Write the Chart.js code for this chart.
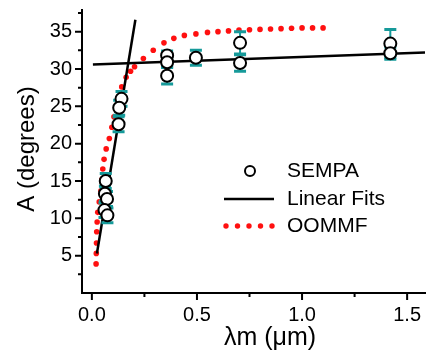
<!DOCTYPE html>
<html>
<head>
<meta charset="utf-8">
<script src="https://cdn.jsdelivr.net/npm/chart.js@4.4.1/dist/chart.umd.min.js"></script>
<style>
  html, body { margin: 0; padding: 0; background: #fff; overflow: hidden; }
  #wrap { width: 428px; height: 354px; overflow: hidden; }
</style>
</head>
<body>
<!-- canvas is a little wider than the page: chart.js keeps ~5px free on the right,
     the original plot runs its axis right to the edge -->
<div id="wrap"><canvas id="chart" width="433" height="354"></canvas></div>
<script>
// SEMPA measurements (lambda_m in um, A in degrees, error in degrees)
const semX = [0.066, 0.062, 0.072, 0.060, 0.074, 0.141, 0.130, 0.127, 0.358, 0.358, 0.358, 0.495, 0.705, 0.705, 1.42, 1.42];
const semY = [15.0, 13.3, 12.6, 11.1, 10.4, 26.0, 24.8, 22.6, 31.8, 30.9, 29.1, 31.5, 33.5, 30.8, 33.4, 32.1];
const semErrUp = [1.0, 1.0, 1.0, 1.0, 1.0, 1.0, 1.0, 1.0, 0.6, 0.6, 1.1, 1.0, 1.5, 1.1, 1.9, 0.8];
const semErrDown = [1.0, 1.0, 1.0, 1.0, 1.0, 1.0, 1.0, 1.0, 0.6, 0.6, 1.1, 1.0, 1.5, 1.1, 1.9, 0.8];

// linear fits, end points
const fitSteepX = [0.024, 0.207];
const fitSteepY = [5.3, 36.6];
const fitFlatX = [0.005, 1.585];
const fitFlatY = [30.6, 32.2];

// OOMMF simulation (dotted curve)
const oommfX = [0.020, 0.021, 0.022, 0.023, 0.025, 0.028, 0.035, 0.043, 0.048, 0.052, 0.058, 0.068, 0.083, 0.095, 0.105, 0.116, 0.128, 0.142, 0.163, 0.184, 0.203, 0.245, 0.292, 0.343, 0.390, 0.440, 0.495, 0.550, 0.600, 0.650, 0.700, 0.750, 0.800, 0.850, 0.900, 0.950, 1.000, 1.050, 1.100];
const oommfY = [3.9, 5.3, 6.7, 8.2, 9.5, 10.8, 12.2, 13.7, 15.2, 16.6, 17.9, 19.3, 20.7, 22.2, 23.6, 25.0, 26.3, 27.6, 28.9, 29.7, 30.3, 31.4, 32.5, 33.5, 34.1, 34.5, 34.7, 34.9, 35.0, 35.1, 35.2, 35.25, 35.3, 35.35, 35.4, 35.45, 35.5, 35.5, 35.5];

// axis ticks
const xTicks = [0, 0.5, 1.0, 1.5];
const xMinor = [0.25, 0.75, 1.25];
const yTicks = [5, 10, 15, 20, 25, 30, 35];
const yMinor = [2.5, 7.5, 12.5, 17.5, 22.5, 27.5, 32.5, 37.5];

const TEAL = '#169a9a';
const RED = '#ff1010';
const FONT = "'Liberation Sans', Arial, sans-serif";

function pts(xs, ys) {
  return xs.map((x, i) => ({ x: x, y: ys[i] }));
}

function noPad(s) {
  s.paddingLeft = 0;
  s.paddingRight = 0;
  s.paddingTop = 0;
  s.paddingBottom = 0;
}

const errorBars = {
  id: 'errorBars',
  beforeDatasetDraw(chart, args) {
    if (args.index !== 0) return;
    const ctx = chart.ctx;
    const xs = chart.scales.x, ys = chart.scales.y;
    ctx.save();
    ctx.strokeStyle = TEAL;
    semX.forEach((v, i) => {
      const px = xs.getPixelForValue(v);
      const top = ys.getPixelForValue(semY[i] + semErrUp[i]);
      const bot = ys.getPixelForValue(semY[i] - semErrDown[i]);
      ctx.lineWidth = 2;
      ctx.beginPath();
      ctx.moveTo(px, top);
      ctx.lineTo(px, bot);
      ctx.stroke();
      ctx.lineWidth = 3;
      ctx.beginPath();
      ctx.moveTo(px - 6, top);
      ctx.lineTo(px + 6, top);
      ctx.moveTo(px - 6, bot);
      ctx.lineTo(px + 6, bot);
      ctx.stroke();
    });
    ctx.restore();
  }
};

const decorations = {
  id: 'decorations',
  afterDraw(chart) {
    const ctx = chart.ctx;
    const xs = chart.scales.x, ys = chart.scales.y;
    const area = chart.chartArea;
    ctx.save();
    ctx.strokeStyle = '#000';
    ctx.lineWidth = 2;
    ctx.beginPath();
    xTicks.forEach(v => { const p = xs.getPixelForValue(v); ctx.moveTo(p, area.bottom); ctx.lineTo(p, area.bottom + 7); });
    xMinor.forEach(v => { const p = xs.getPixelForValue(v); ctx.moveTo(p, area.bottom); ctx.lineTo(p, area.bottom + 4); });
    yTicks.forEach(v => { const p = ys.getPixelForValue(v); ctx.moveTo(area.left, p); ctx.lineTo(area.left - 7, p); });
    yMinor.forEach(v => { const p = ys.getPixelForValue(v); ctx.moveTo(area.left, p); ctx.lineTo(area.left - 4, p); });
    ctx.stroke();

    // axis titles
    ctx.fillStyle = '#000';
    ctx.textAlign = 'center';
    ctx.textBaseline = 'middle';
    ctx.font = '25px ' + FONT;
    ctx.fillText('\u03bbm (\u03bcm)', 270, 338);
    ctx.save();
    ctx.translate(27, 149);
    ctx.rotate(-Math.PI / 2);
    ctx.font = '24px ' + FONT;
    ctx.fillText('A (degrees)', 0, 0);
    ctx.restore();

    // legend
    ctx.font = '21px ' + FONT;
    ctx.textAlign = 'left';
    ctx.fillText('SEMPA', 287, 171);
    ctx.fillText('Linear Fits', 287, 199);
    ctx.fillText('OOMMF', 287, 226);
    ctx.beginPath();
    ctx.arc(250, 171, 5, 0, Math.PI * 2);
    ctx.fillStyle = '#fff';
    ctx.fill();
    ctx.lineWidth = 2;
    ctx.stroke();
    ctx.beginPath();
    ctx.lineWidth = 2.5;
    ctx.moveTo(224, 199);
    ctx.lineTo(274, 199);
    ctx.stroke();
    ctx.fillStyle = RED;
    for (let k = 0; k < 5; k++) {
      ctx.beginPath();
      ctx.arc(226 + k * 11.5, 226, 2.7, 0, Math.PI * 2);
      ctx.fill();
    }
    ctx.restore();
  }
};

new Chart(document.getElementById('chart'), {
  type: 'scatter',
  data: {
    datasets: [
      {
        label: 'SEMPA',
        data: pts(semX, semY),
        pointStyle: 'circle',
        pointRadius: 6,
        borderWidth: 2,
        borderColor: '#000',
        backgroundColor: '#fff'
      },
      {
        label: 'Linear Fits',
        data: pts(fitSteepX, fitSteepY),
        showLine: true,
        pointRadius: 0,
        borderColor: '#000',
        borderWidth: 2.5
      },
      {
        label: 'Linear Fits',
        data: pts(fitFlatX, fitFlatY),
        showLine: true,
        pointRadius: 0,
        borderColor: '#000',
        borderWidth: 2.5
      },
      {
        label: 'OOMMF',
        data: pts(oommfX, oommfY),
        pointRadius: 2.8,
        borderWidth: 0,
        backgroundColor: RED
      }
    ]
  },
  options: {
    responsive: false,
    animation: false,
    layout: { padding: { top: 10, left: 0, right: 0, bottom: 0 } },
    plugins: { legend: { display: false }, tooltip: { enabled: false } },
    scales: {
      x: {
        type: 'linear',
        min: -0.047,
        max: 1.585,
        afterFit: s => { s.height = 61; noPad(s); },
        afterBuildTicks: s => { s.ticks = xTicks.map(v => ({ value: v })); },
        grid: { display: false, drawTicks: false },
        border: { display: true, color: '#000', width: 2 },
        ticks: {
          color: '#000',
          padding: 10,
          maxRotation: 0,
          font: { family: FONT, size: 20 },
          callback: v => v.toFixed(1)
        }
      },
      y: {
        min: 0,
        max: 37.9,
        afterFit: s => { s.width = 82; noPad(s); },
        afterBuildTicks: s => { s.ticks = yTicks.map(v => ({ value: v })); },
        grid: { display: false, drawTicks: false },
        border: { display: true, color: '#000', width: 2 },
        ticks: {
          color: '#000',
          padding: 10,
          font: { family: FONT, size: 20 }
        }
      }
    }
  },
  plugins: [errorBars, decorations]
});
</script>
</body>
</html>
